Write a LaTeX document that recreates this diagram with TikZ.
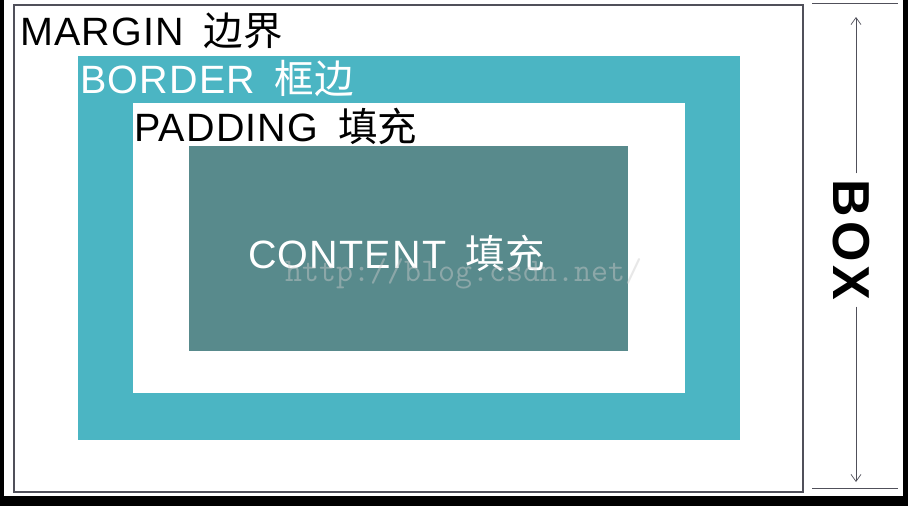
\documentclass[tikz,border=0pt]{standalone}
\usepackage{fontspec}
\newfontfamily\lat{Liberation Sans}[LetterSpace=3]
\newfontfamily\boxfont{Liberation Sans}[LetterSpace=8]
\newfontfamily\cjk{Noto Sans CJK SC}
\usetikzlibrary{arrows.meta}
\definecolor{bordercol}{RGB}{75,181,195}
\definecolor{contentcol}{RGB}{88,138,140}
\definecolor{linecol}{RGB}{80,80,90}
\begin{document}
\begin{tikzpicture}[x=1pt,y=-1pt]
    \fill[black] (0,0) rectangle (908,506);
    \fill[white] (4,0) rectangle (903,496);
    \draw[line width=1.3pt,linecol] (14,5) rectangle (803,492);
    \foreach \i/\xa/\ya/\xb/\yb/\col in {0/78/56/740/440/bordercol, 1/133/103/685/393/white, 2/189/146/628/351/contentcol}{
      \coordinate (a\i) at (\xa,\ya);
      \coordinate (b\i) at (\xb,\yb);
      \fill[\col] (a\i) rectangle (b\i);
    }
    \foreach \i/\x/\y/\col/\en/\zh in {0/20/45/black/MARGIN/边界, 1/80/93/white/BORDER/框边, 2/134/141/black/PADDING/填充, 3/248/268/white/CONTENT/填充}{
      \node[anchor=base west,inner sep=0pt,text=\col,font=\lat\fontsize{39.5}{39}\selectfont] (l\i) at (\x,\y) {\en\hspace{0.5em}{\cjk\zh}};
    }
    \node[anchor=base west,inner sep=0pt,text=gray!40,opacity=0.45,font=\ttfamily\fontsize{33}{33}\selectfont] (wm) at (285,281) {http://blog.csdn.net/};
    % box height
    \node[rotate=-90,inner sep=6pt,font=\boxfont\bfseries\fontsize{52}{52}\selectfont] (box) at (851,240) {BOX};
    \coordinate (top) at (856,17);
    \coordinate (bot) at (856,482);
    \draw[line width=0.7pt,linecol,-{Straight Barb[length=7pt,width=10pt]}] (box.west -| top) -- (top);
    \draw[line width=0.7pt,linecol,-{Straight Barb[length=7pt,width=10pt]}] (box.east -| bot) -- (bot);
    \draw[thick,linecol] (812,3) -- (898,3);
    \draw[thick,linecol] (812,488) -- (898,488);
\end{tikzpicture}
\end{document}
